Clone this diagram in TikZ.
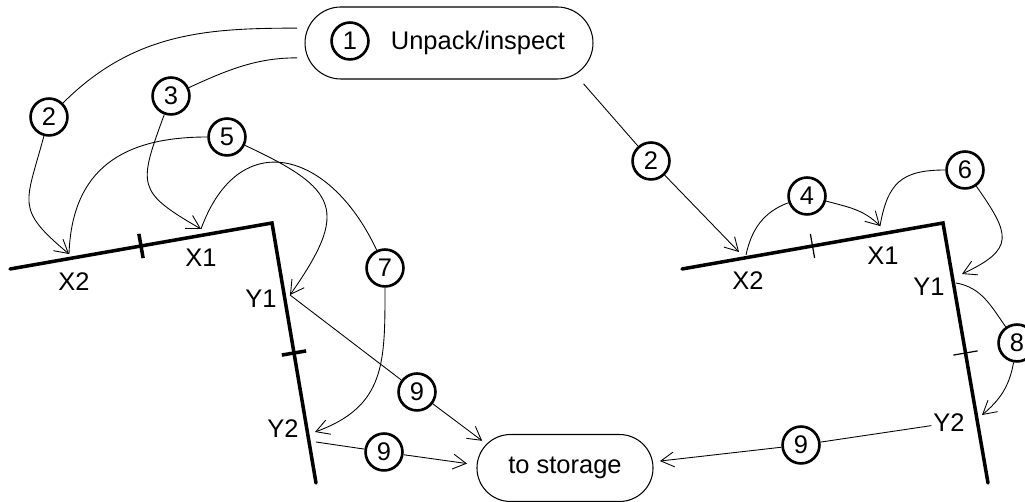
\documentclass[tikz,border=0pt]{standalone}
\usepackage{fontspec}
\setmainfont{Liberation Sans}
\usepackage{tkz-euclide}
\usetikzlibrary{arrows.meta,shapes.misc,calc}

\begin{document}
\begin{tikzpicture}[x=0.02cm, y=0.02cm,
    >={Straight Barb[length=7.5pt,width=8.5pt]},
    num/.style={circle, draw, line width=1.5pt, minimum size=21pt,
      inner sep=0pt, font=\fontsize{14.5}{17}\selectfont},
    lab/.style={inner sep=1pt, font=\fontsize{14.5}{17}\selectfont},
    box/.style={rounded rectangle, draw, line width=0.6pt, inner sep=0pt,
      font=\fontsize{14.5}{17}\selectfont},
    conn/.style={line width=0.5pt}]
  \useasboundingbox (0,0) rectangle (1025,-502);

  \tkzDefPoints{10/-269/A, 272/-223/B, 316/-483/C}
  \tkzDefPoints{682/-269/A', 943/-223/B', 988/-483/C'}
  \tkzDefMidPoint(A,B) \tkzGetPoint{M}
  \tkzDefMidPoint(B,C) \tkzGetPoint{N}
  \tkzDefMidPoint(A',B') \tkzGetPoint{M'}
  \tkzDefMidPoint(B',C') \tkzGetPoint{N'}

  \tkzDrawPolySeg[line width=2pt, line join=miter](A,B,C)
  \tkzDrawPolySeg[line width=2pt, line join=miter](A',B',C')
  \draw[line width=2pt] ($(M)!7pt!90:(B)$) -- ($(M)!7pt!-90:(B)$);
  \draw[line width=2pt] ($(N)!7pt!90:(C)$) -- ($(N)!7pt!-90:(C)$);
  \draw[line width=0.7pt] ($(M')!7pt!90:(B')$) -- ($(M')!7pt!-90:(B')$);
  \draw[line width=0.7pt] ($(N')!7pt!90:(C')$) -- ($(N')!7pt!-90:(C')$);

  \node[lab] (xl2) at (74,-282) {X2};
  \node[lab] (xl1) at (201,-258) {X1};
  \node[lab] (yl1) at (261,-299) {Y1};
  \node[lab] (yl2) at (283,-429) {Y2};
  \node[lab] (xr2) at (748,-281) {X2};
  \node[lab] (xr1) at (883,-256) {X1};
  \node[lab] (yr1) at (929,-287) {Y1};
  \node[lab] (yr2) at (949,-423) {Y2};

  \coordinate (aX2) at (69,-254);
  \coordinate (aX1) at (201,-229);
  \coordinate (aY1) at (290,-295);
  \coordinate (aY2) at (315,-432);
  \coordinate (bY2) at (316,-442);
  \coordinate (aX2') at (739,-252);
  \coordinate (bX2') at (746,-255);
  \coordinate (aX1') at (880,-226);
  \coordinate (aY1') at (962,-274);
  \coordinate (bY1') at (956,-283);
  \coordinate (aY2') at (982,-415);

  % boxes
  \node[box, minimum width=163.9pt, minimum height=41pt] (unpack) at (449,-43) {};
  \node[num] (c1) at (350,-41) {1};
  \node[lab] (unpacktxt) at (478,-43) {Unpack/inspect};
  \node[box, minimum width=100.2pt, minimum height=38.1pt] (storage) at (565,-468) {to storage};

  % steps
  \node[num] (c2) at (49,-117) {2};
  \node[num] (c3) at (171,-96) {3};
  \node[num] (c5) at (227,-137) {5};
  \node[num] (c7) at (385,-268) {7};
  \node[num] (c9a) at (417,-392) {9};
  \node[num] (c9b) at (384,-452) {9};
  \node[num] (c2r) at (651,-161) {2};
  \node[num] (c4) at (807,-196) {4};
  \node[num] (c6) at (965,-170) {6};
  \node[num] (c8) at (1017,-343) {8};
  \node[num] (c9c) at (801,-445) {9};

  \draw[conn, shorten <=6pt] (unpack.174) to[out=180, in=45] (c2);
  \draw[conn, ->] (c2) to[out=-105, in=140, looseness=1.5] (aX2);
  \draw[conn, shorten <=6pt] (unpack.186) to[out=180, in=25] (c3);
  \draw[conn, ->] (c3) to[out=250, in=150, looseness=1.6] (aX1);
  \draw[conn] (aX2) to[out=88, in=180, looseness=1.2] (c5);
  \draw[conn, ->] (c5) to[out=-25, in=55, looseness=1.7] (aY1);
  \draw[conn] (aX1) to[out=70, in=115, looseness=1.6] (c7);
  \draw[conn, ->] (c7) to[out=-90, in=20, looseness=1.2] (aY2);
  \draw[conn] (aY1) -- (c9a);
  \draw[conn, ->, shorten >=3pt] (c9a) -- (storage.163);
  \draw[conn] (bY2) -- (c9b);
  \draw[conn, ->, shorten >=5.5pt] (c9b) -- (storage.178);

  \draw[conn, shorten <=7pt] (unpack.-14) -- (c2r);
  \draw[conn, ->] (c2r) -- (aX2');
  \draw[conn] (bX2') to[out=78, in=200] (c4);
  \draw[conn, ->] (c4) to[out=-15, in=135] (aX1');
  \draw[conn] (aX1') to[out=80, in=180, looseness=1.3] (c6);
  \draw[conn, ->] (c6) to[out=-55, in=25, looseness=1.7] (aY1');
  \draw[conn] (bY1') to[out=-10, in=125] (c8);
  \draw[conn, ->] (c8) to[out=-100, in=40] (aY2');
  \draw[conn] (yr2) -- (c9c);
  \draw[conn, ->, shorten >=4pt] (c9c) -- (storage.4);
\end{tikzpicture}
\end{document}
